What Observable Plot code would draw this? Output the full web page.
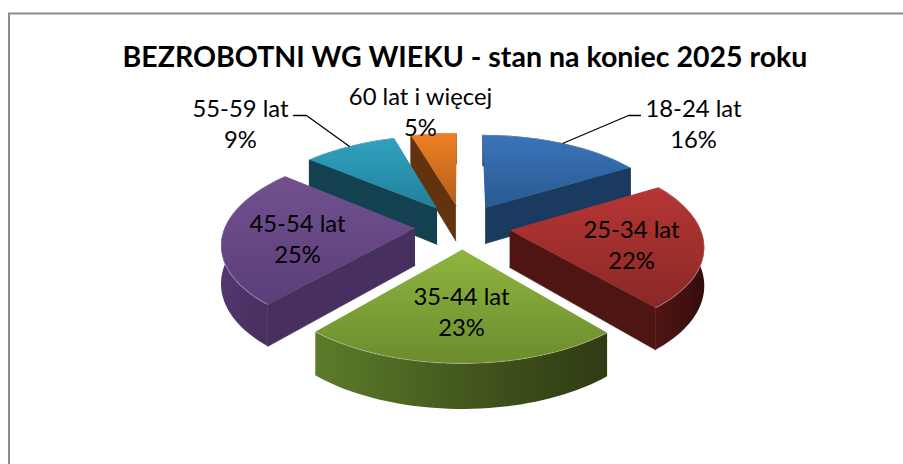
<!DOCTYPE html>
<html><head><meta charset="utf-8">
<script src="https://cdn.jsdelivr.net/npm/d3@7"></script>
<script src="https://cdn.jsdelivr.net/npm/@observablehq/plot@0.6"></script>
<style>html,body{margin:0;padding:0;background:#fff}svg{display:block}</style>
</head><body><div id="chart"></div>
<script>
const chartTitle = "BEZROBOTNI WG WIEKU - stan na koniec 2025 roku";
const categories = ["18-24 lat","25-34 lat","35-44 lat","45-54 lat","55-59 lat","60 lat i więcej"];
const shares = [16.4,22.4,22.6,24.6,9.4,4.6];

// view settings of the exploded 3D pie
const view = {cx:462, cy:226, rx:190, ry:89, persp:0.15, depth:37, explode:0.25};
const ids = ["blue","red","green","purple","teal","orange"];
const topColors = {blue:["#3a74ba","#285a92"],red:["#b63634","#8a2826"],green:["#8fb53f","#6c8c2e"],purple:["#72508f","#5b3e79"],teal:["#30a2bf","#22809a"],orange:["#ef7f25","#b3601a"]};
const wallColors = {blue:["#1b3a60","#1b3a60","#1b3a60"],red:["#4e1513","#3f100f","#310c0b"],green:["#5c7c2a","#3d4f1a","#2f3b14"],purple:["#52376f","#49305f","#45305c"],teal:["#14404f","#14404f","#14404f"],orange:["#643410","#643410","#643410"]};
const sideColors = {blue:"#1a3a5f",red:"#4f1513",green:"#4a5f20",purple:"#472f5f",teal:"#14414f",orange:"#633310"};
const labelAt = [[693,122],[631,243],[461,310],[297,237],[240,122],[420,110]];
const leaderElbows = {0:[[628,115],[640,115]],4:[[306,115],[293,115]]};
const drawOrder = [5,4,0,3,1,2];

const rad = d => d*Math.PI/180;
function project(X,Y,z=0){
  const w = 1 - Y*view.persp;
  return {x: view.cx + view.rx*X/w, y: view.cy + (view.ry*Y + view.depth*z)/w};
}
const total = d3.sum(shares);
let acc = 0;
const slices = shares.map((v,i)=>{
  const a0 = acc/total*360; acc += v; const a1 = acc/total*360; const mid=(a0+a1)/2;
  const ex = view.explode*Math.sin(rad(mid)), ey = -view.explode*Math.cos(rad(mid));
  const rim = (t,z=0)=>project(ex+Math.sin(rad(t)), ey-Math.cos(rad(t)), z);
  const apex = (z=0)=>project(ex,ey,z);
  const n = Math.max(8, Math.ceil((a1-a0)/2));
  const ts = d3.range(n+1).map(k=>a0+(a1-a0)*k/n);
  return {i,id:ids[i],a0,a1,mid,rim,apex,ts};
});

const defsMark = () => {
  const defs = d3.create("svg:defs");
  for (const id of ids){
    const g = defs.append("linearGradient").attr("id","top-"+id).attr("x1",0).attr("y1",0).attr("x2",0).attr("y2",1);
    g.append("stop").attr("offset",0).attr("stop-color",topColors[id][0]);
    g.append("stop").attr("offset",1).attr("stop-color",topColors[id][1]);
    const h = defs.append("linearGradient").attr("id","wall-"+id).attr("x1",0).attr("y1",0).attr("x2",1).attr("y2",0);
    [0,0.65,1].forEach((o,k)=>h.append("stop").attr("offset",o).attr("stop-color",wallColors[id][k]));
  }
  return defs.node();
};

const polygon = (pts,fill,stroke="none")=>Plot.line(pts,{x:"x",y:"y",fill,stroke,strokeWidth:0.8,curve:"linear"});
const pieMarks = [];
for (const j of drawOrder){
  const s = slices[j];
  const wall = [...s.ts.map(t=>s.rim(t,0)), ...s.ts.slice().reverse().map(t=>s.rim(t,1))];
  pieMarks.push(polygon(wall,`url(#wall-${s.id})`));
  if (Math.sin(rad(s.a0)) < -1e-6) pieMarks.push(polygon([s.apex(0),s.rim(s.a0,0),s.rim(s.a0,1),s.apex(1)],sideColors[s.id],sideColors[s.id]));
  if (Math.sin(rad(s.a1)) > 1e-6) pieMarks.push(polygon([s.apex(0),s.rim(s.a1,0),s.rim(s.a1,1),s.apex(1)],sideColors[s.id],sideColors[s.id]));
  pieMarks.push(polygon([s.apex(0),...s.ts.map(t=>s.rim(t,0))],`url(#top-${s.id})`));
  pieMarks.push(Plot.line(s.ts.map(t=>s.rim(t,0)),{x:"x",y:"y",stroke:"#fff",strokeOpacity:0.22,strokeWidth:1.2,curve:"linear"}));
}
const leaders = Object.entries(leaderElbows).map(([k,e])=>{
  const s = slices[+k];
  return Plot.line([s.rim(s.mid,0),...e.map(([x,y])=>({x,y}))],{x:"x",y:"y",stroke:"#000",strokeWidth:1.3});
});
const labels = categories.map((c,i)=>({x:labelAt[i][0],y:labelAt[i][1],text:`${c}\n${Math.round(shares[i])}%`}));

const chart = Plot.plot({
  width:903,height:464,margin:0,
  x:{domain:[0,903],range:[0,903],axis:null},
  y:{domain:[0,464],range:[0,464],axis:null},
  marks:[
    defsMark,
    Plot.ruleX([8.5],{y1:13,y2:464,stroke:"#8c8c8c",strokeWidth:2}),
    Plot.ruleY([13],{x1:8,x2:903,stroke:"#8c8c8c",strokeWidth:2}),
    ...pieMarks,
    ...leaders,
    Plot.text(labels,{x:"x",y:"y",text:"text",fontSize:23.8,lineHeight:1.33,fontFamily:"Lato",fill:"#000"}),
    Plot.text([chartTitle],{x:()=>464.5,y:()=>57,text:d=>d,fontSize:28.5,fontWeight:"bold",fontFamily:"Lato",fill:"#000"})
  ]
});
document.getElementById("chart").append(chart);
</script></body></html>
